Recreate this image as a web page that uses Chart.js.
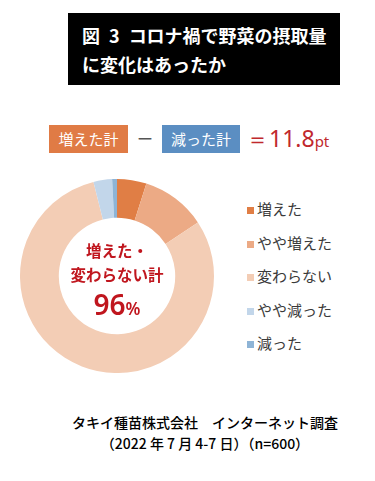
<!DOCTYPE html>
<html>
<head>
<meta charset="utf-8">
<script src="https://cdn.jsdelivr.net/npm/chart.js@4"></script>
<style>
body { margin:0; width:375px; height:481px; background:#fff; position:relative; overflow:hidden;
  font-family:"Noto Sans CJK JP","Noto Sans",sans-serif; }
#title { position:absolute; left:68px; top:13px; width:272px; height:72px; background:#000; color:#fff; white-space:nowrap;
  font-weight:bold; font-size:18px; line-height:29px; box-sizing:border-box; padding:8px 0 0 14px; }
#title .gap { display:inline-block; width:9px; }
.box { position:absolute; top:125px; height:28px; color:#fff; font-size:15px; line-height:28px; text-align:center; }
#upBox { left:49px; width:79px; background:#E07B45; }
#downBox { left:162px; width:78px; background:#5B8EC2; }
#minus { position:absolute; left:137px; top:124px; font-size:16px; color:#555; line-height:28px; }
#diff { position:absolute; left:246px; top:121px; color:#C0282D; font-size:23px; line-height:34px; font-family:"Noto Sans","DejaVu Sans",sans-serif; }
#diff small { font-size:15px; }
#chartWrap { position:absolute; left:20px; top:179px; width:194px; height:194px; }
#center { position:absolute; left:57px; top:238px; width:120px; text-align:center; color:#C0161E; font-weight:bold; }
#center .l { font-size:15.5px; line-height:24px; }
#center .big { font-size:28px; line-height:36px; font-family:"Noto Sans",sans-serif; font-weight:600; }
#center .big small { font-size:17px; }
#legend { position:absolute; left:247px; top:196px; }
.item { height:33.5px; font-size:15px; color:#3a3a3a; line-height:26px; }
.item span.sw { display:inline-block; width:7px; height:7px; margin-right:3px; vertical-align:1px; }
#foot { position:absolute; left:4px; top:412px; width:402px; text-align:center; font-size:14px; line-height:21px; color:#000; font-weight:500; }
</style>
</head>
<body>
<div id="title">図<span class="gap"></span>3<span class="gap"></span>コロナ禍で野菜の摂取量<br>に変化はあったか</div>
<div class="box" id="upBox">増えた計</div>
<div id="minus">ー</div>
<div class="box" id="downBox">減った計</div>
<div id="diff"></div>
<div id="chartWrap"><canvas id="donut" width="194" height="194"></canvas></div>
<div id="center"></div>
<div id="legend"></div>
<div id="foot">タキイ種苗株式会社　インターネット調査<br>（2022 年 7 月 4-7 日）（n=600）</div>
<script>
// answer categories and their shares (%)
var categories = ['増えた', 'やや増えた', '変わらない', 'やや減った', '減った'];
var shares = [4.9, 10.8, 80.4, 3.1, 0.8];
var colors = ['#E07E45', '#ECAA85', '#F3CDB5', '#C2D6EA', '#8EB4D6'];

// summary numbers
var upTotal = shares[0] + shares[1];
var downTotal = shares[3] + shares[4];
var upSameTotal = Math.round(upTotal + shares[2]);

document.getElementById('diff').innerHTML = '＝' + (upTotal - downTotal).toFixed(1) + '<small>pt</small>';
document.getElementById('center').innerHTML =
    '<div class="l">増えた・</div><div class="l">変わらない計</div><div class="big">' + upSameTotal + '<small>%</small></div>';

var legendHtml = '';
for (var i in categories) {
    legendHtml += '<div class="item"><span class="sw" style="background:' + colors[i] + '"></span>' + categories[i] + '</div>';
}
document.getElementById('legend').innerHTML = legendHtml;

var ctx = document.getElementById('donut');
var donut = new Chart(ctx, {
    type: 'doughnut',
    data: {
        labels: categories,
        datasets: [{
            data: shares,
            backgroundColor: colors,
            borderWidth: 0
        }]
    },
    options: {
        responsive: false,
        animation: false,
        cutout: '60%',
        plugins: { legend: { display: false }, tooltip: { enabled: false } }
    }
});
</script>
</body>
</html>
